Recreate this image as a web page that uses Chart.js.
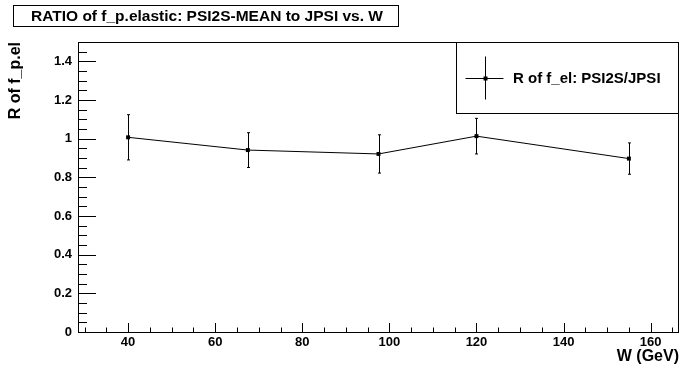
<!DOCTYPE html>
<html>
<head>
<meta charset="utf-8">
<title>RATIO of f_p.elastic</title>
<script src="https://cdn.jsdelivr.net/npm/chart.js"></script>
<style>
  body { margin: 0; background: white; }
  #wrap { width: 683px; height: 368px; }
</style>
</head>
<body>
<div id="wrap"><canvas id="ratioChart"></canvas></div>
<script>
  // values
  const wGeV = [40, 67.5, 97.5, 120, 155];
  const ratio = [1.007, 0.941, 0.921, 1.013, 0.897];
  const ratioErr = [0.117, 0.090, 0.099, 0.092, 0.081];

  const titleText = 'RATIO of f_p.elastic: PSI2S-MEAN to JPSI vs. W';
  const legendText = 'R of f_el: PSI2S/JPSI';
  const xTitle = 'W (GeV)';
  const yTitle = 'R of f_p.el';

  const xRange = [28.5, 166.5], xMajor = 20, xMinor = 5;
  const yRange = [0, 1.5], yMajor = 0.2, yMinor = 0.05;
  const xLabels = [40, 60, 80, 100, 120, 140, 160];
  const yLabels = [0, 0.2, 0.4, 0.6, 0.8, 1, 1.2, 1.4];

  const FONT = "'Liberation Sans', Arial, sans-serif";

  function isMultiple(v, step) {
    return Math.abs(v / step - Math.round(v / step)) < 1e-6;
  }

  // ROOT-like frame, inner ticks, error bars, legend and title box
  const rootStyle = {
    id: 'rootStyle',
    beforeDatasetsDraw(chart) {
      const { ctx, scales: { x, y } } = chart;
      ctx.save();
      ctx.strokeStyle = '#000';
      ctx.lineWidth = 1;
      wGeV.forEach((w, i) => {
        const px = Math.round(x.getPixelForValue(w)) + 0.5;
        const top = y.getPixelForValue(ratio[i] + ratioErr[i]);
        const bot = y.getPixelForValue(ratio[i] - ratioErr[i]);
        ctx.beginPath();
        ctx.moveTo(px, top); ctx.lineTo(px, bot);
        ctx.moveTo(px - 1.5, top); ctx.lineTo(px + 1.5, top);
        ctx.moveTo(px - 1.5, bot); ctx.lineTo(px + 1.5, bot);
        ctx.stroke();
      });
      ctx.restore();
    },
    afterDraw(chart) {
      const { ctx, chartArea: a, scales: { x, y } } = chart;
      ctx.save();
      ctx.strokeStyle = '#000';
      ctx.lineWidth = 1;

      // frame
      ctx.strokeRect(a.left + 0.5, a.top + 0.5, a.right - a.left - 1, a.bottom - a.top);

      // y ticks
      ctx.beginPath();
      for (let v = yRange[0]; v <= yRange[1] + 1e-9; v += yMinor) {
        const py = Math.round(y.getPixelForValue(v)) + 0.5;
        const len = isMultiple(v, yMajor) ? 18 : 9;
        ctx.moveTo(a.left, py); ctx.lineTo(a.left + len, py);
      }
      // x ticks
      for (let v = Math.ceil(xRange[0] / xMinor) * xMinor; v <= xRange[1]; v += xMinor) {
        const px = Math.round(x.getPixelForValue(v)) + 0.5;
        const len = isMultiple(v, xMajor) ? 9 : 4.5;
        ctx.moveTo(px, a.bottom); ctx.lineTo(px, a.bottom - len);
      }
      ctx.stroke();

      // legend box
      const lx = 456, ly = a.top, lw = a.right - lx, lh = 71;
      ctx.fillStyle = '#fff';
      ctx.fillRect(lx, ly, lw, lh);
      ctx.strokeRect(lx + 0.5, ly + 0.5, lw - 1, lh);
      const mx = lx + 29.5, my = ly + 36.5;
      ctx.beginPath();
      ctx.moveTo(mx - 20, my); ctx.lineTo(mx + 18, my);
      ctx.moveTo(mx, my - 22); ctx.lineTo(mx, my + 21);
      ctx.stroke();
      ctx.fillStyle = '#000';
      ctx.fillRect(mx - 2, my - 2, 4, 4);
      ctx.font = 'bold 15px ' + FONT;
      ctx.textBaseline = 'middle';
      ctx.textAlign = 'left';
      ctx.fillText(legendText, lx + 57, my);

      // title box
      ctx.fillStyle = '#fff';
      ctx.fillRect(13, 5, 386, 22);
      ctx.strokeRect(13.5, 5.5, 385, 21);
      ctx.fillStyle = '#000';
      ctx.font = 'bold 15.5px ' + FONT;
      ctx.textAlign = 'center';
      ctx.fillText(titleText, 207, 16.5);
      ctx.restore();
    }
  };

  const ctx = document.getElementById('ratioChart').getContext('2d');
  new Chart(ctx, {
    type: 'line',
    data: {
      datasets: [{
        label: legendText,
        data: wGeV.map((w, i) => ({ x: w, y: ratio[i] })),
        borderColor: '#000',
        borderWidth: 1,
        backgroundColor: '#000',
        pointStyle: 'rect',
        pointRadius: 2.8,
        pointBackgroundColor: '#000',
        pointBorderWidth: 0,
        tension: 0,
        fill: false
      }]
    },
    options: {
      responsive: true,
      maintainAspectRatio: false,
      animation: false,
      devicePixelRatio: 1,
      layout: { padding: { top: 42, right: 1, left: 0, bottom: 0 } },
      plugins: {
        legend: { display: false },
        title: { display: false },
        tooltip: { enabled: false }
      },
      scales: {
        x: {
          type: 'linear',
          min: xRange[0],
          max: xRange[1],
          afterFit: (s) => { s.height = 36; },
          afterBuildTicks: (s) => { s.ticks = xLabels.map(v => ({ value: v })); },
          grid: { display: false, drawTicks: false },
          border: { display: false },
          ticks: {
            autoSkip: false,
            maxRotation: 0,
            padding: 3,
            color: '#000',
            font: { family: FONT, size: 13, weight: 'bold' },
            callback: (v) => String(v)
          },
          title: {
            display: true,
            text: xTitle,
            align: 'end',
            color: '#000',
            padding: { top: 0, bottom: 2 },
            font: { family: FONT, size: 16, weight: 'bold' }
          }
        },
        y: {
          min: yRange[0],
          max: yRange[1],
          afterFit: (s) => { s.width = 78; },
          afterBuildTicks: (s) => { s.ticks = yLabels.map(v => ({ value: v })); },
          grid: { display: false, drawTicks: false },
          border: { display: false },
          ticks: {
            autoSkip: false,
            padding: 6,
            color: '#000',
            font: { family: FONT, size: 13, weight: 'bold' },
            callback: (v) => String(v)
          },
          title: {
            display: true,
            text: yTitle,
            align: 'end',
            color: '#000',
            padding: { top: 6, bottom: 0 },
            font: { family: FONT, size: 16, weight: 'bold' }
          }
        }
      }
    },
    plugins: [rootStyle]
  });
</script>
</body>
</html>
